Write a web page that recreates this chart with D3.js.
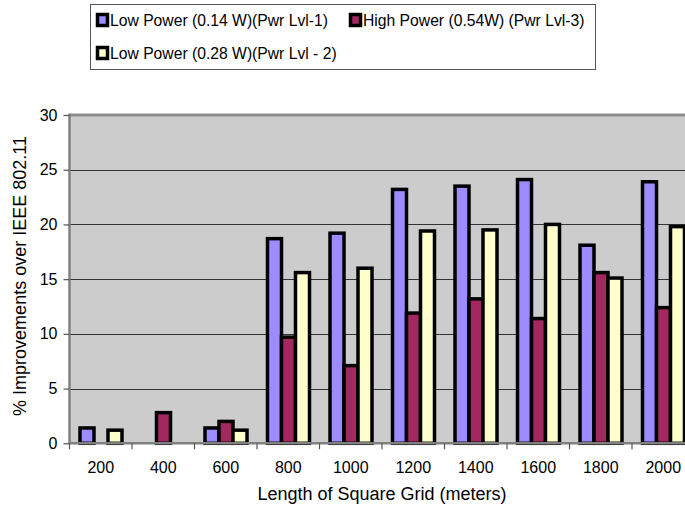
<!DOCTYPE html>
<html>
<head>
<meta charset="utf-8">
<script src="https://cdn.jsdelivr.net/npm/d3@7"></script>
<style>
  html, body { margin: 0; padding: 0; background: #fff; }
  svg { display: block; font-family: "Liberation Sans", Arial, sans-serif; }
</style>
</head>
<body>
<svg id="chart" width="685" height="511"></svg>
<script>
// ---- data ----
const categories = ["200", "400", "600", "800", "1000", "1200", "1400", "1600", "1800", "2000"];
const lowPower014 = [1.4, null, 1.4, 18.7, 19.2, 23.2, 23.5, 24.1, 18.1, 23.9];
const highPower054 = [null, 2.8, 2.0, 9.7, 7.1, 11.9, 13.2, 11.4, 15.6, 12.4];
const lowPower028 = [1.2, null, 1.2, 15.6, 16.0, 19.4, 19.5, 20.0, 15.1, 19.8];
const seriesNames = ["Low Power (0.14 W)(Pwr Lvl-1)", "High Power (0.54W) (Pwr Lvl-3)", "Low Power (0.28 W)(Pwr Lvl - 2)"];
const seriesColors = ["#9C8CFF", "#A2285F", "#FFFFCC"];
const yTicks = [0, 5, 10, 15, 20, 25, 30];

const series = [lowPower014, highPower054, lowPower028];

const svg = d3.select("#chart");
const plot = { left: 69.5, right: 694.5, top: 115, bottom: 443.3 };

const x0 = d3.scaleBand().domain(categories).range([plot.left, plot.right]).padding(0);
const x1 = d3.scaleBand().domain(d3.range(series.length)).range([10.5, 52.5]).padding(0);
const y = d3.scaleLinear().domain([0, 30]).range([plot.bottom, plot.top]);

// plot background
svg.append("rect")
  .attr("x", plot.left).attr("y", plot.top)
  .attr("width", plot.right - plot.left).attr("height", plot.bottom - plot.top)
  .attr("fill", "#CCCCCC");

// gridlines
svg.append("g").selectAll("line")
  .data(yTicks.filter(t => t > 0 && t < 30))
  .join("line")
  .attr("x1", plot.left).attr("x2", plot.right)
  .attr("y1", d => Math.round(y(d)) + 0.5).attr("y2", d => Math.round(y(d)) + 0.5)
  .attr("stroke", "#333").attr("stroke-width", 1);

// top border
svg.append("line")
  .attr("x1", plot.left).attr("x2", plot.right)
  .attr("y1", y(30)).attr("y2", y(30))
  .attr("stroke", "#8C8C8C").attr("stroke-width", 3);

// bars
const groups = svg.append("g").selectAll("g")
  .data(categories)
  .join("g")
  .attr("transform", d => `translate(${x0(d)},0)`);

groups.selectAll("rect")
  .data((d, i) => series.map((s, si) => ({ si, v: s[i] })).filter(o => o.v != null))
  .join("rect")
  .attr("x", d => x1(d.si))
  .attr("width", x1.bandwidth())
  .attr("y", d => y(d.v))
  .attr("height", d => y(0) - y(d.v))
  .attr("fill", d => seriesColors[d.si])
  .attr("stroke", "#000")
  .attr("stroke-width", 3.5);

// left axis line
svg.append("line")
  .attr("x1", plot.left).attr("x2", plot.left)
  .attr("y1", plot.top - 1.5).attr("y2", plot.bottom + 1)
  .attr("stroke", "#808080").attr("stroke-width", 2.5);
// bottom axis line
svg.append("line")
  .attr("x1", plot.left).attr("x2", plot.right)
  .attr("y1", plot.bottom).attr("y2", plot.bottom)
  .attr("stroke", "#808080").attr("stroke-width", 2.5);

// y axis
const yAxis = d3.axisLeft(y).tickValues(yTicks).tickSize(6).tickPadding(6);
const gy = svg.append("g").attr("transform", `translate(${plot.left},0)`).call(yAxis);
gy.select(".domain").remove();
gy.selectAll(".tick line").attr("stroke", "#555").attr("stroke-width", 1.2);
gy.selectAll(".tick text").attr("font-size", 16).attr("fill", "#000")
  .attr("font-family", "'Liberation Sans', Arial, sans-serif");

// x axis ticks at band boundaries
const boundaries = categories.map(c => x0(c)).concat([plot.right]);
svg.append("g").selectAll("line")
  .data(boundaries)
  .join("line")
  .attr("x1", d => d).attr("x2", d => d)
  .attr("y1", plot.bottom).attr("y2", plot.bottom + 6)
  .attr("stroke", "#555").attr("stroke-width", 1.2);

// x labels
svg.append("g").selectAll("text")
  .data(categories)
  .join("text")
  .attr("x", d => x0(d) + x0.bandwidth() / 2)
  .attr("y", 473)
  .attr("text-anchor", "middle")
  .attr("font-size", 16)
  .text(d => d);

// axis titles
svg.append("text")
  .attr("x", 382).attr("y", 500)
  .attr("text-anchor", "middle")
  .attr("font-size", 18)
  .text("Length of Square Grid (meters)");

svg.append("text")
  .attr("transform", "translate(26,276) rotate(-90)")
  .attr("text-anchor", "middle")
  .attr("font-size", 18)
  .text("% Improvements over IEEE 802.11");

// legend
const legend = svg.append("g");
legend.append("rect")
  .attr("x", 90.5).attr("y", 4.5).attr("width", 505).attr("height", 65)
  .attr("fill", "#fff").attr("stroke", "#555").attr("stroke-width", 1);
const legendPos = [
  { x: 96, y: 20 },
  { x: 349, y: 20 },
  { x: 96, y: 53 }
];
seriesNames.forEach((name, i) => {
  const p = legendPos[i];
  legend.append("rect")
    .attr("x", p.x + 1.5).attr("y", p.y - 5.5)
    .attr("width", 10).attr("height", 11)
    .attr("fill", seriesColors[i]).attr("stroke", "#000").attr("stroke-width", 3.5);
  legend.append("text")
    .attr("x", p.x + 14).attr("y", p.y + 6)
    .attr("font-size", 15.7)
    .text(name);
});
</script>
</body>
</html>
